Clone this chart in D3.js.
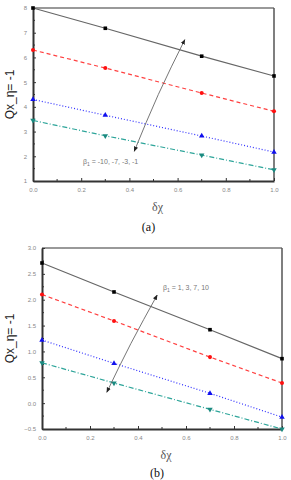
<!DOCTYPE html>
<html>
<head>
<meta charset="utf-8">
<script src="https://cdn.jsdelivr.net/npm/d3@7"></script>
<style>
  body { margin: 0; background: #fff; }
  .tick text { fill: #888; font-family: Arial, "Liberation Sans", sans-serif; font-size: 6px; }
</style>
</head>
<body>
<svg id="chart" width="291" height="480"></svg>
<script>
// x positions shared by both panels
const xValues = [0, 0.3, 0.7, 1.0];

// panel (a), beta1 = -10, -7, -3, -1
const aBlack = [8.0, 7.18, 6.05, 5.25];
const aRed = [6.3, 5.57, 4.56, 3.82];
const aBlue = [4.3, 3.66, 2.82, 2.17];
const aTeal = [3.45, 2.83, 2.05, 1.45];
const aYTicks = [1, 2, 3, 4, 5, 6, 7, 8];
const aArrow = [[0.42, 2.2], [0.52, 4.5], [0.63, 6.72]];

// panel (b), beta1 = 1, 3, 7, 10
const bBlack = [2.71, 2.15, 1.42, 0.86];
const bRed = [2.1, 1.59, 0.89, 0.39];
const bBlue = [1.22, 0.77, 0.19, -0.27];
const bTeal = [0.78, 0.39, -0.12, -0.5];
const bYTicks = [-0.5, 0.0, 0.5, 1.0, 1.5, 2.0, 2.5, 3.0];
const bArrow = [[0.27, 0.21], [0.37, 1.15], [0.48, 2.09]];

const xTicks = [0, 0.2, 0.4, 0.6, 0.8, 1.0];

const seriesStyle = [
  { stroke: '#666', dash: null, fill: '#000', shape: d3.symbolSquare, rot: 0 },
  { stroke: '#ff4040', dash: '4,3', fill: '#ff1010', shape: d3.symbolCircle, rot: 0 },
  { stroke: '#3030ff', dash: '1,2', fill: '#1010ee', shape: d3.symbolTriangle, rot: 0 },
  { stroke: '#2ea59a', dash: '5,2,1,2', fill: '#1a8a80', shape: d3.symbolTriangle, rot: 180 }
];

const svg = d3.select('#chart');

const defs = svg.append('defs');
defs.append('marker')
  .attr('id', 'ah')
  .attr('viewBox', '0 0 10 10')
  .attr('refX', 9).attr('refY', 5)
  .attr('markerWidth', 6).attr('markerHeight', 6)
  .attr('orient', 'auto-start-reverse')
  .append('path')
  .attr('d', 'M0,1 L10,5 L0,9 Z')
  .attr('fill', '#222');

function drawPanel(cfg) {
  const g = svg.append('g');
  const x = d3.scaleLinear().domain([0, 1]).range([cfg.left, cfg.right]);
  const y = d3.scaleLinear().domain(cfg.yDomain).range([cfg.bottom, cfg.top]);

  // frame: top and right
  g.append('line').attr('x1', cfg.left).attr('x2', cfg.right).attr('y1', cfg.top).attr('y2', cfg.top)
    .attr('stroke', '#777').attr('stroke-width', 1.5);
  g.append('line').attr('x1', cfg.right).attr('x2', cfg.right).attr('y1', cfg.top).attr('y2', cfg.bottom)
    .attr('stroke', '#555').attr('stroke-width', 1.5);

  // minor ticks
  const xMinor = d3.range(0.1, 1, 0.2);
  g.selectAll('.xminor').data(xMinor).join('line')
    .attr('x1', d => x(d)).attr('x2', d => x(d))
    .attr('y1', cfg.bottom).attr('y2', cfg.bottom - 2)
    .attr('stroke', '#333');
  const yStep = cfg.yTicks[1] - cfg.yTicks[0];
  const yMinor = cfg.yTicks.slice(0, -1).map(v => v + yStep / 2);
  g.selectAll('.yminor').data(yMinor).join('line')
    .attr('x1', cfg.left).attr('x2', cfg.left + 2)
    .attr('y1', d => y(d)).attr('y2', d => y(d))
    .attr('stroke', '#333');

  // axes
  const xAxis = d3.axisBottom(x).tickValues(xTicks).tickFormat(d3.format('.1f'))
    .tickSizeInner(-3).tickSizeOuter(0).tickPadding(7);
  const yAxis = d3.axisLeft(y).tickValues(cfg.yTicks).tickFormat(cfg.yFormat)
    .tickSizeInner(-3).tickSizeOuter(0).tickPadding(6);

  const xg = g.append('g').attr('transform', `translate(0,${cfg.bottom})`).call(xAxis);
  const yg = g.append('g').attr('transform', `translate(${cfg.left},0)`).call(yAxis);
  [xg, yg].forEach(a => {
    a.select('.domain').attr('stroke', '#333').attr('stroke-width', 2);
    a.selectAll('.tick line').attr('stroke', '#333');
  });

  // series
  const line = d3.line().x((d, i) => x(xValues[i])).y(d => y(d));
  cfg.series.forEach((vals, k) => {
    const st = seriesStyle[k];
    g.append('path').datum(vals)
      .attr('d', line)
      .attr('fill', 'none')
      .attr('stroke', st.stroke)
      .attr('stroke-width', 1.2)
      .attr('stroke-dasharray', st.dash);
    g.selectAll('.m' + k).data(vals).join('path')
      .attr('d', d3.symbol().type(st.shape).size(st.shape === d3.symbolCircle ? 13 : 13))
      .attr('transform', (d, i) => `translate(${x(xValues[i])},${y(d)}) rotate(${st.rot})`)
      .attr('fill', st.fill);
  });

  // arrow
  const curve = d3.line().x(d => x(d[0])).y(d => y(d[1])).curve(d3.curveNatural);
  g.append('path').datum(cfg.arrow)
    .attr('d', curve)
    .attr('fill', 'none')
    .attr('stroke', '#666')
    .attr('stroke-width', 0.9)
    .attr('marker-start', 'url(#ah)')
    .attr('marker-end', 'url(#ah)');

  // annotation
  const t = g.append('text')
    .attr('x', cfg.noteX).attr('y', cfg.noteY)
    .attr('font-family', 'Arial, "Liberation Sans", sans-serif')
    .attr('font-size', 7)
    .attr('fill', '#777');
  t.append('tspan').text('β');
  t.append('tspan').attr('font-size', 5).attr('dy', 2).text('1');
  t.append('tspan').attr('dy', -2).text(' = ' + cfg.note);

  // y label
  g.append('text')
    .attr('transform', `translate(${cfg.yLabelX},${(cfg.top + cfg.bottom) / 2}) rotate(-90)`)
    .attr('text-anchor', 'middle')
    .attr('font-family', 'Arial, "Liberation Sans", sans-serif')
    .attr('font-size', 12)
    .attr('fill', '#222')
    .text('Qx_η= -1');

  // x label
  g.append('text')
    .attr('x', (cfg.left + cfg.right) / 2 + 4).attr('y', cfg.bottom + 30)
    .attr('text-anchor', 'middle')
    .attr('font-family', '"Liberation Serif", "DejaVu Serif", serif')
    .attr('font-size', 12)
    .attr('fill', '#555')
    .text('δχ');

  // panel tag
  g.append('text')
    .attr('x', (cfg.left + cfg.right) / 2 - 5).attr('y', cfg.tagY)
    .attr('text-anchor', 'middle')
    .attr('font-family', '"Liberation Serif", "DejaVu Serif", serif')
    .attr('font-size', 12)
    .attr('fill', '#111')
    .text(cfg.tag);
}

drawPanel({
  left: 33, right: 274, top: 8, bottom: 181,
  yDomain: [1, 8], yTicks: aYTicks, yFormat: d3.format('d'),
  series: [aBlack, aRed, aBlue, aTeal],
  arrow: aArrow,
  note: '-10, -7, -3, -1', noteX: 83, noteY: 164,
  yLabelX: 14, tag: '(a)', tagY: 231
});

drawPanel({
  left: 42, right: 282, top: 248, bottom: 429,
  yDomain: [-0.5, 3.0], yTicks: bYTicks, yFormat: d3.format('.1f'),
  series: [bBlack, bRed, bBlue, bTeal],
  arrow: bArrow,
  note: '1, 3, 7, 10', noteX: 163, noteY: 290,
  yLabelX: 14, tag: '(b)', tagY: 477
});
</script>
</body>
</html>
